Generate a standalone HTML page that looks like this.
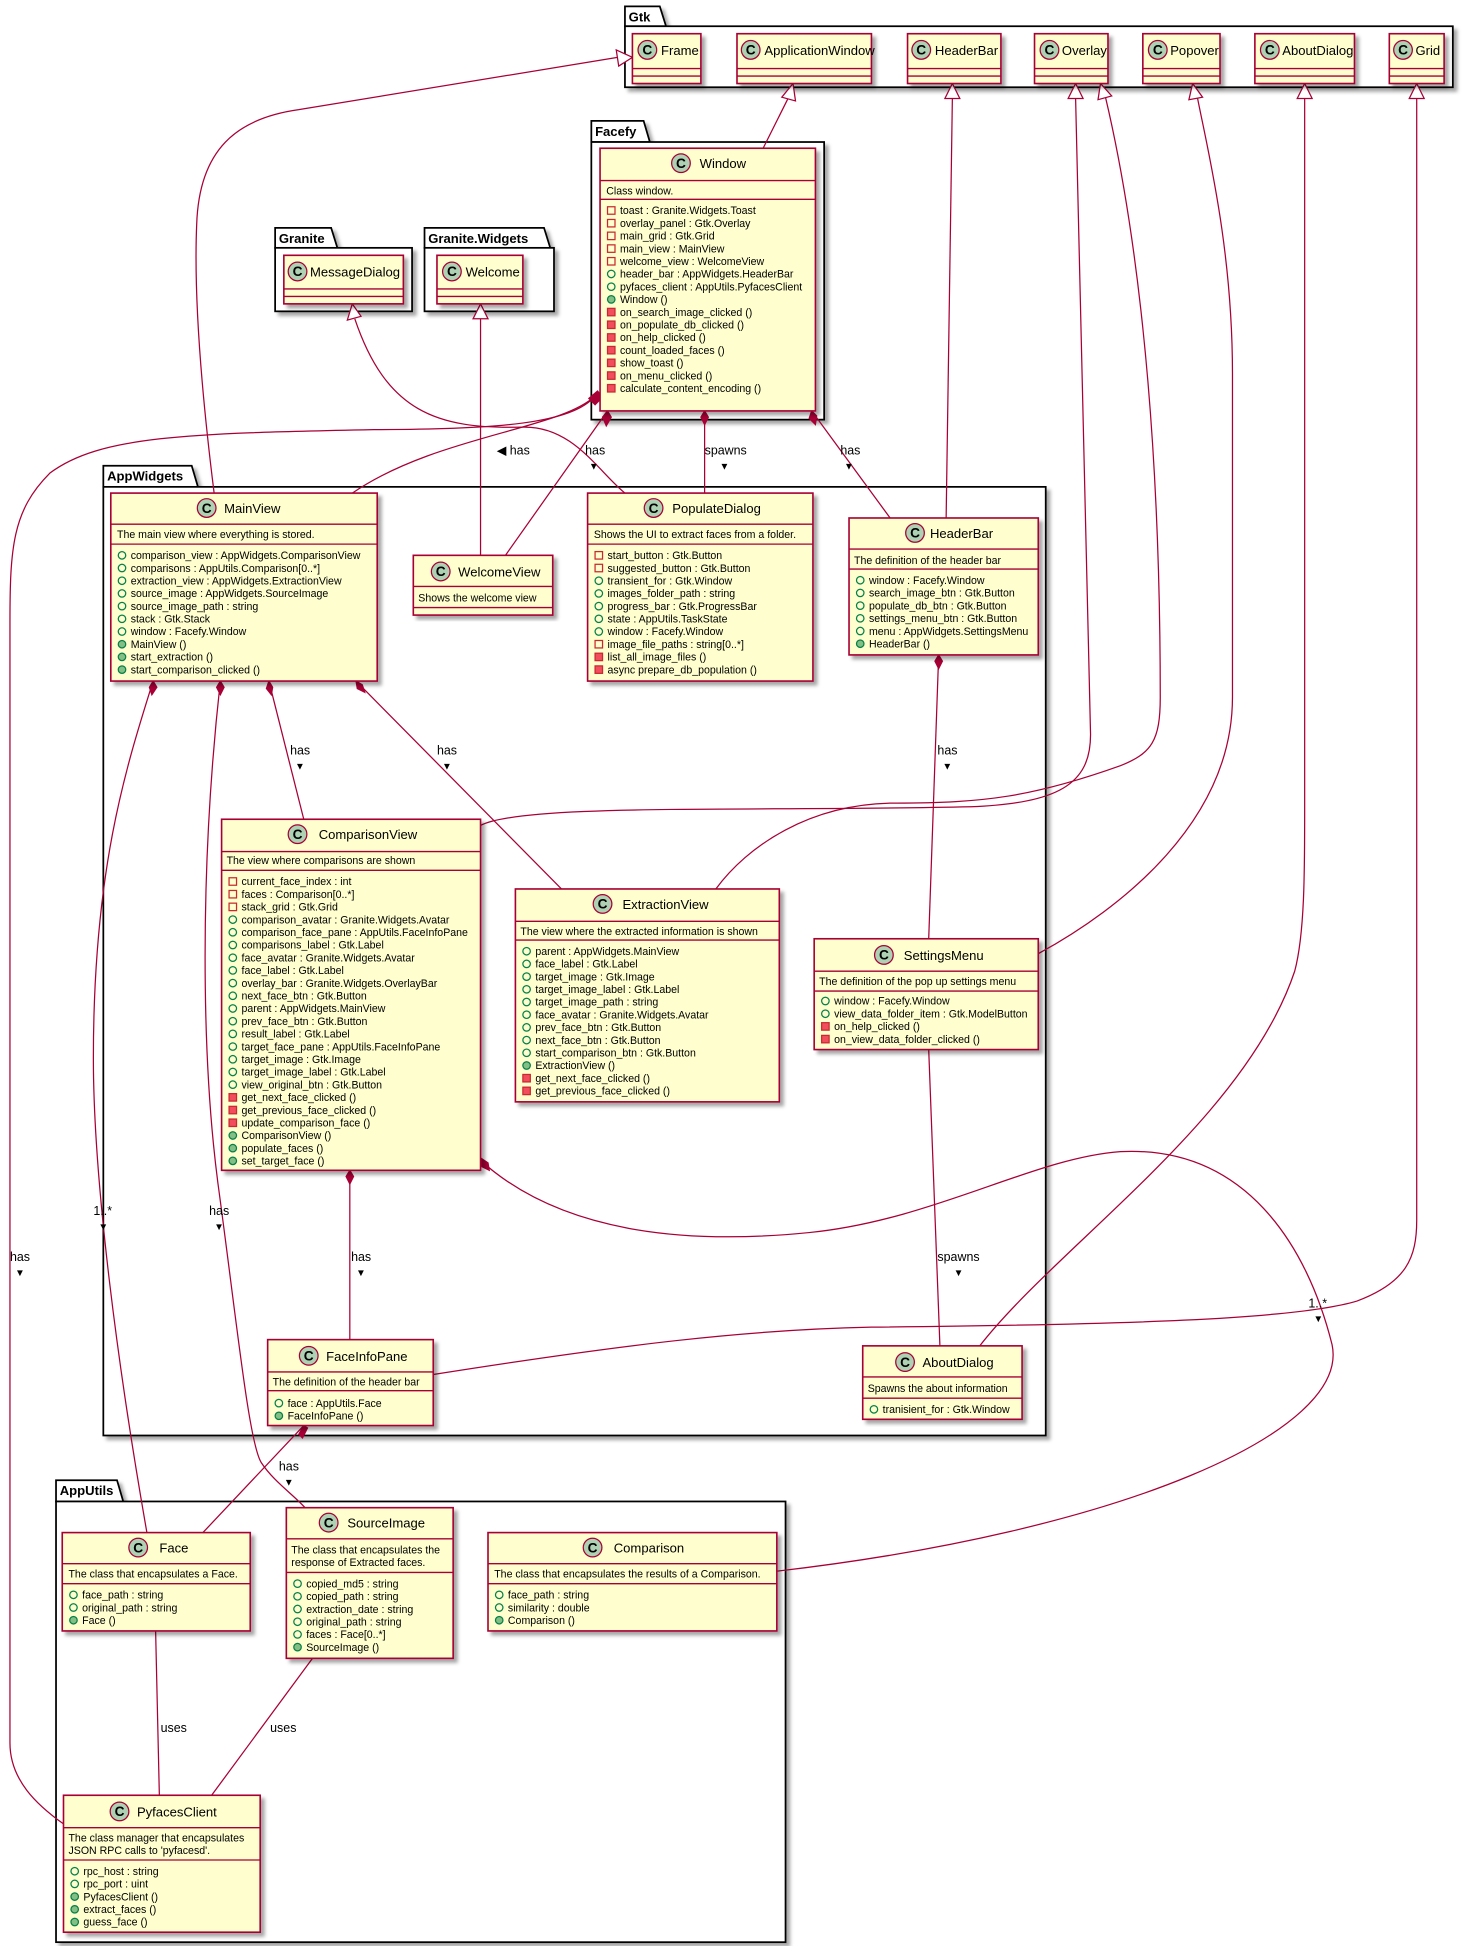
<!DOCTYPE html>
<html><head><meta charset="utf-8"><style>
html,body{margin:0;padding:0;background:#fff;}
svg{display:block;}
text{font-family:"Liberation Sans",sans-serif;fill:#000;}
.a{font-size:8.5px;}
.t{font-size:10.5px;}
.p{font-size:10.5px;font-weight:bold;}
.l{font-size:10px;}
.b{fill:#FEFECE;stroke:#A80036;stroke-width:1.3;}
.s{stroke:#A80036;stroke-width:1.1;fill:none;}
.e{stroke:#A80036;stroke-width:1;fill:none;}
.pk{fill:#fff;stroke:#000;stroke-width:1.4;}
.tri{fill:#fff;stroke:#A80036;stroke-width:1;}
.dm{fill:#A80036;stroke:#A80036;}
</style></head><body>
<svg width="1469" height="1946" viewBox="0 0 1180 1563" xmlns="http://www.w3.org/2000/svg">
<defs>
<filter id="sh" x="-5%" y="-5%" width="115%" height="115%"><feDropShadow dx="3" dy="3" stdDeviation="1.5" flood-color="#000" flood-opacity="0.35"/></filter>
<g id="ci"><circle r="7.5" fill="#ADD1B2" stroke="#A80036" stroke-width="1"/><text x="0" y="3.8" text-anchor="middle" style="font-size:11px;font-weight:bold">C</text></g>
<rect id="pa" x="-3" y="-3" width="6" height="6" fill="none" stroke="#C82930" stroke-width="1"/>
<circle id="pu" r="3" fill="none" stroke="#038048" stroke-width="1"/>
<circle id="pm" r="3" fill="#84BE84" stroke="#038048" stroke-width="1"/>
<rect id="vm" x="-3" y="-3" width="6" height="6" fill="#F24D5C" stroke="#C82930" stroke-width="1"/>
</defs>

<!-- Packages -->
<g filter="url(#sh)">
<path class="pk" d="M502,21 L502,5 L530,5 L535,21 Z"/><rect class="pk" x="502" y="21" width="665" height="49"/>
<path class="pk" d="M475,114 L475,97 L517,97 L522,114 Z"/><rect class="pk" x="475" y="114" width="187" height="223"/>
<path class="pk" d="M221,199 L221,183 L266,183 L271,199 Z"/><rect class="pk" x="221" y="199" width="110" height="51"/>
<path class="pk" d="M341,199 L341,183 L437,183 L442,199 Z"/><rect class="pk" x="341" y="199" width="104" height="51"/>
<path class="pk" d="M83,391 L83,374 L154,374 L159,391 Z"/><rect class="pk" x="83" y="391" width="757" height="762"/>
<path class="pk" d="M45,1206 L45,1189 L94,1189 L99,1206 Z"/><rect class="pk" x="45" y="1206" width="586" height="354"/>
</g>
<text class="p" x="505" y="17">Gtk</text>
<text class="p" x="478" y="109">Facefy</text>
<text class="p" x="224" y="195">Granite</text>
<text class="p" x="344" y="195">Granite.Widgets</text>
<text class="p" x="86" y="386">AppWidgets</text>
<text class="p" x="48" y="1201">AppUtils</text>

<!-- Edges -->
<path class="e" d="M172,396 C165,340 155,250 158,180 C160,120 190,95 240,88 L496,46"/>
<path class="e" d="M613,119 L633,79"/>
<path class="e" d="M760,416 L765,79"/>
<path class="e" d="M386,663 C420,645 600,652 780,648 C850,645 876,630 876,590 L864,79"/>
<path class="e" d="M575,714 C600,680 650,645 720,645 C790,645 830,640 900,615 C925,605 932,595 932,560 C932,300 905,150 888,78"/>
<path class="e" d="M834,766 C900,730 990,660 990,560 L990,300 C990,200 970,120 962,79"/>
<path class="e" d="M787,1081 C850,1000 1000,900 1040,780 C1048,750 1048,700 1048,650 L1048,79"/>
<path class="e" d="M348,1104 C500,1080 600,1068 700,1066 C900,1064 1040,1060 1090,1045 C1130,1030 1138,1010 1138,980 L1138,79"/>
<path class="e" d="M285,256 C310,330 350,345 420,343 C460,342 480,378 502,396"/>
<path class="e" d="M386,256 L386,446"/>
<path class="e" d="M478,318 C450,345 350,350 283,396"/>
<path class="e" d="M478,318 C460,340 400,345 300,345 C150,348 80,350 40,380 C10,410 8,440 8,500 L8,1400 C8,1430 30,1450 51,1465"/>
<path class="e" d="M488,330 L406,446"/>
<path class="e" d="M566,330 L566,396"/>
<path class="e" d="M652,330 L715,416"/>
<path class="e" d="M754,526 L746,754"/>
<path class="e" d="M123,547 C100,620 75,700 75,850 C75,950 95,1100 118,1231"/>
<path class="e" d="M177,547 C160,700 162,850 175,950 C190,1060 200,1160 210,1175 C220,1190 235,1200 245,1211"/>
<path class="e" d="M216,547 L244,658"/>
<path class="e" d="M286,547 L451,714"/>
<path class="e" d="M281,940 L281,1076"/>
<path class="e" d="M386,932 C450,990 550,1000 650,990 C750,980 830,930 900,925 C1000,920 1050,1000 1070,1080 C1085,1150 900,1230 624,1262"/>
<path class="e" d="M746,843 L755,1081"/>
<path class="e" d="M244,1145 L163,1231"/>
<path class="e" d="M125,1310 L128,1442"/>
<path class="e" d="M251,1332 L170,1442"/>

<!-- Inheritance triangles -->
<polygon class="tri" points="508,46 495,40 497,53"/>
<polygon class="tri" points="637,67 628,78 639,81"/>
<polygon class="tri" points="765,67 759,79 771,79"/>
<polygon class="tri" points="864,67 858,79 870,79"/>
<polygon class="tri" points="884,67 882,80 893,77"/>
<polygon class="tri" points="958,67 955,80 966,78"/>
<polygon class="tri" points="1048,67 1042,79 1054,79"/>
<polygon class="tri" points="1138,67 1132,79 1144,79"/>
<polygon class="tri" points="283,244 279,257 290,254"/>
<polygon class="tri" points="386,244 380,256 392,256"/>

<!-- Diamonds -->
<polygon class="dm" points="480,314 484,319 478,325 473,320"/>
<polygon class="dm" points="488,330 491,335 487,342 484,335"/>
<polygon class="dm" points="566,330 569,335 566,341 563,335"/>
<polygon class="dm" points="652,330 656,334 655,341 650,336"/>
<polygon class="dm" points="754,526 757,531 754,537 751,531"/>
<polygon class="dm" points="123,547 126,552 122,558 120,552"/>
<polygon class="dm" points="177,547 180,552 177,558 174,552"/>
<polygon class="dm" points="216,547 219,552 218,558 214,553"/>
<polygon class="dm" points="286,547 291,550 293,556 287,553"/>
<polygon class="dm" points="281,940 284,945 281,951 278,945"/>
<polygon class="dm" points="386,930 392,934 393,940 387,937"/>
<polygon class="dm" points="244,1145 247,1147 243,1155 240,1152"/>

<!-- Edge labels -->
<text class="l" x="399" y="365">◀ has</text>
<text class="l" x="470" y="365">has</text><text class="l" x="473" y="377" style="font-size:8px">▼</text>
<text class="l" x="566" y="365">spawns</text><text class="l" x="578" y="377" style="font-size:8px">▼</text>
<text class="l" x="675" y="365">has</text><text class="l" x="678" y="377" style="font-size:8px">▼</text>
<text class="l" x="753" y="606">has</text><text class="l" x="757" y="618" style="font-size:8px">▼</text>
<text class="l" x="233" y="606">has</text><text class="l" x="237" y="618" style="font-size:8px">▼</text>
<text class="l" x="351" y="606">has</text><text class="l" x="355" y="618" style="font-size:8px">▼</text>
<text class="l" x="75" y="976">1..*</text><text class="l" x="79" y="988" style="font-size:8px">▼</text>
<text class="l" x="168" y="976">has</text><text class="l" x="172" y="988" style="font-size:8px">▼</text>
<text class="l" x="8" y="1013">has</text><text class="l" x="12" y="1025" style="font-size:8px">▼</text>
<text class="l" x="282" y="1013">has</text><text class="l" x="286" y="1025" style="font-size:8px">▼</text>
<text class="l" x="753" y="1013">spawns</text><text class="l" x="766" y="1025" style="font-size:8px">▼</text>
<text class="l" x="1051" y="1050">1..*</text><text class="l" x="1055" y="1062" style="font-size:8px">▼</text>
<text class="l" x="224" y="1181">has</text><text class="l" x="228" y="1193" style="font-size:8px">▼</text>
<text class="l" x="129" y="1391">uses</text>
<text class="l" x="217" y="1391">uses</text>

<!-- Gtk classes -->
<g filter="url(#sh)">
<rect class="b" x="508" y="27" width="55" height="40"/>
<rect class="b" x="592" y="27" width="108" height="40"/>
<rect class="b" x="729" y="27" width="75" height="40"/>
<rect class="b" x="831" y="27" width="59" height="40"/>
<rect class="b" x="918" y="27" width="62" height="40"/>
<rect class="b" x="1008" y="27" width="80" height="40"/>
<rect class="b" x="1116" y="27" width="44" height="40"/>
<rect class="b" x="228" y="205" width="96" height="39"/>
<rect class="b" x="351" y="205" width="69" height="39"/>
</g>
<g class="s">
<path d="M508,55H563M508,61H563 M592,55H700M592,61H700 M729,55H804M729,61H804 M831,55H890M831,61H890 M918,55H980M918,61H980 M1008,55H1088M1008,61H1088 M1116,55H1160M1116,61H1160 M228,232H324M228,238H324 M351,232H420M351,238H420"/>
</g>
<use href="#ci" x="520" y="40"/><text class="t" x="531" y="44">Frame</text>
<use href="#ci" x="603" y="40"/><text class="t" x="614" y="44">ApplicationWindow</text>
<use href="#ci" x="740" y="40"/><text class="t" x="751" y="44">HeaderBar</text>
<use href="#ci" x="843" y="40"/><text class="t" x="853" y="44">Overlay</text>
<use href="#ci" x="930" y="40"/><text class="t" x="940" y="44">Popover</text>
<use href="#ci" x="1020" y="40"/><text class="t" x="1030" y="44">AboutDialog</text>
<use href="#ci" x="1127" y="40"/><text class="t" x="1137" y="44">Grid</text>
<use href="#ci" x="239" y="218"/><text class="t" x="249" y="222">MessageDialog</text>
<use href="#ci" x="363" y="218"/><text class="t" x="374" y="222">Welcome</text>

<!-- Window -->
<rect class="b" x="482" y="119" width="173" height="211" filter="url(#sh)"/>
<path class="s" d="M482,145H655M482,160H655"/>
<use href="#ci" x="547" y="131"/><text class="t" x="562" y="135">Window</text>
<text class="a" x="487" y="156">Class window.</text>
<g class="a">
<use href="#pa" x="491" y="169"/><text x="498" y="172">toast : Granite.Widgets.Toast</text>
<use href="#pa" x="491" y="179.2"/><text x="498" y="182.2">overlay_panel : Gtk.Overlay</text>
<use href="#pa" x="491" y="189.4"/><text x="498" y="192.4">main_grid : Gtk.Grid</text>
<use href="#pa" x="491" y="199.6"/><text x="498" y="202.6">main_view : MainView</text>
<use href="#pa" x="491" y="209.8"/><text x="498" y="212.8">welcome_view : WelcomeView</text>
<use href="#pu" x="491" y="220"/><text x="498" y="223">header_bar : AppWidgets.HeaderBar</text>
<use href="#pu" x="491" y="230.2"/><text x="498" y="233.2">pyfaces_client : AppUtils.PyfacesClient</text>
<use href="#pm" x="491" y="240.4"/><text x="498" y="243.4">Window ()</text>
<use href="#vm" x="491" y="250.6"/><text x="498" y="253.6">on_search_image_clicked ()</text>
<use href="#vm" x="491" y="260.8"/><text x="498" y="263.8">on_populate_db_clicked ()</text>
<use href="#vm" x="491" y="271"/><text x="498" y="274">on_help_clicked ()</text>
<use href="#vm" x="491" y="281.2"/><text x="498" y="284.2">count_loaded_faces ()</text>
<use href="#vm" x="491" y="291.4"/><text x="498" y="294.4">show_toast ()</text>
<use href="#vm" x="491" y="301.6"/><text x="498" y="304.6">on_menu_clicked ()</text>
<use href="#vm" x="491" y="311.8"/><text x="498" y="314.8">calculate_content_encoding ()</text>
</g>

<!-- MainView -->
<rect class="b" x="89" y="396" width="214" height="151" filter="url(#sh)"/>
<path class="s" d="M89,421H303M89,437H303"/>
<use href="#ci" x="166" y="408"/><text class="t" x="180" y="412">MainView</text>
<text class="a" x="94" y="432">The main view where everything is stored.</text>
<g class="a">
<use href="#pu" x="98" y="446"/><text x="105" y="449">comparison_view : AppWidgets.ComparisonView</text>
<use href="#pu" x="98" y="456.2"/><text x="105" y="459.2">comparisons : AppUtils.Comparison[0..*]</text>
<use href="#pu" x="98" y="466.4"/><text x="105" y="469.4">extraction_view : AppWidgets.ExtractionView</text>
<use href="#pu" x="98" y="476.6"/><text x="105" y="479.6">source_image : AppWidgets.SourceImage</text>
<use href="#pu" x="98" y="486.8"/><text x="105" y="489.8">source_image_path : string</text>
<use href="#pu" x="98" y="497"/><text x="105" y="500">stack : Gtk.Stack</text>
<use href="#pu" x="98" y="507.2"/><text x="105" y="510.2">window : Facefy.Window</text>
<use href="#pm" x="98" y="517.4"/><text x="105" y="520.4">MainView ()</text>
<use href="#pm" x="98" y="527.6"/><text x="105" y="530.6">start_extraction ()</text>
<use href="#pm" x="98" y="537.8"/><text x="105" y="540.8">start_comparison_clicked ()</text>
</g>

<!-- WelcomeView -->
<rect class="b" x="332" y="446" width="112" height="48" filter="url(#sh)"/>
<path class="s" d="M332,471H444M332,488H444"/>
<use href="#ci" x="354" y="459"/><text class="t" x="368" y="463">WelcomeView</text>
<text class="a" x="336" y="483">Shows the welcome view</text>

<!-- PopulateDialog -->
<rect class="b" x="472" y="396" width="181" height="151" filter="url(#sh)"/>
<path class="s" d="M472,421H653M472,437H653"/>
<use href="#ci" x="525" y="408"/><text class="t" x="540" y="412">PopulateDialog</text>
<text class="a" x="477" y="432">Shows the UI to extract faces from a folder.</text>
<g class="a">
<use href="#pa" x="481" y="446"/><text x="488" y="449">start_button : Gtk.Button</text>
<use href="#pa" x="481" y="456.2"/><text x="488" y="459.2">suggested_button : Gtk.Button</text>
<use href="#pu" x="481" y="466.4"/><text x="488" y="469.4">transient_for : Gtk.Window</text>
<use href="#pu" x="481" y="476.6"/><text x="488" y="479.6">images_folder_path : string</text>
<use href="#pu" x="481" y="486.8"/><text x="488" y="489.8">progress_bar : Gtk.ProgressBar</text>
<use href="#pu" x="481" y="497"/><text x="488" y="500">state : AppUtils.TaskState</text>
<use href="#pu" x="481" y="507.2"/><text x="488" y="510.2">window : Facefy.Window</text>
<use href="#pa" x="481" y="517.4"/><text x="488" y="520.4">image_file_paths : string[0..*]</text>
<use href="#vm" x="481" y="527.6"/><text x="488" y="530.6">list_all_image_files ()</text>
<use href="#vm" x="481" y="537.8"/><text x="488" y="540.8">async prepare_db_population ()</text>
</g>

<!-- HeaderBar -->
<rect class="b" x="682" y="416" width="152" height="110" filter="url(#sh)"/>
<path class="s" d="M682,441H834M682,457H834"/>
<use href="#ci" x="735" y="428"/><text class="t" x="747" y="432">HeaderBar</text>
<text class="a" x="686" y="453">The definition of the header bar</text>
<g class="a">
<use href="#pu" x="691" y="466"/><text x="698" y="469">window : Facefy.Window</text>
<use href="#pu" x="691" y="476.2"/><text x="698" y="479.2">search_image_btn : Gtk.Button</text>
<use href="#pu" x="691" y="486.4"/><text x="698" y="489.4">populate_db_btn : Gtk.Button</text>
<use href="#pu" x="691" y="496.6"/><text x="698" y="499.6">settings_menu_btn : Gtk.Button</text>
<use href="#pu" x="691" y="506.8"/><text x="698" y="509.8">menu : AppWidgets.SettingsMenu</text>
<use href="#pm" x="691" y="517"/><text x="698" y="520">HeaderBar ()</text>
</g>

<!-- ComparisonView -->
<rect class="b" x="178" y="658" width="208" height="282" filter="url(#sh)"/>
<path class="s" d="M178,684H386M178,699H386"/>
<use href="#ci" x="239" y="670"/><text class="t" x="256" y="674">ComparisonView</text>
<text class="a" x="182" y="694">The view where comparisons are shown</text>
<g class="a">
<use href="#pa" x="187" y="708"/><text x="194" y="711">current_face_index : int</text>
<use href="#pa" x="187" y="718.2"/><text x="194" y="721.2">faces : Comparison[0..*]</text>
<use href="#pa" x="187" y="728.4"/><text x="194" y="731.4">stack_grid : Gtk.Grid</text>
<use href="#pu" x="187" y="738.6"/><text x="194" y="741.6">comparison_avatar : Granite.Widgets.Avatar</text>
<use href="#pu" x="187" y="748.8"/><text x="194" y="751.8">comparison_face_pane : AppUtils.FaceInfoPane</text>
<use href="#pu" x="187" y="759"/><text x="194" y="762">comparisons_label : Gtk.Label</text>
<use href="#pu" x="187" y="769.2"/><text x="194" y="772.2">face_avatar : Granite.Widgets.Avatar</text>
<use href="#pu" x="187" y="779.4"/><text x="194" y="782.4">face_label : Gtk.Label</text>
<use href="#pu" x="187" y="789.6"/><text x="194" y="792.6">overlay_bar : Granite.Widgets.OverlayBar</text>
<use href="#pu" x="187" y="799.8"/><text x="194" y="802.8">next_face_btn : Gtk.Button</text>
<use href="#pu" x="187" y="810"/><text x="194" y="813">parent : AppWidgets.MainView</text>
<use href="#pu" x="187" y="820.2"/><text x="194" y="823.2">prev_face_btn : Gtk.Button</text>
<use href="#pu" x="187" y="830.4"/><text x="194" y="833.4">result_label : Gtk.Label</text>
<use href="#pu" x="187" y="840.6"/><text x="194" y="843.6">target_face_pane : AppUtils.FaceInfoPane</text>
<use href="#pu" x="187" y="850.8"/><text x="194" y="853.8">target_image : Gtk.Image</text>
<use href="#pu" x="187" y="861"/><text x="194" y="864">target_image_label : Gtk.Label</text>
<use href="#pu" x="187" y="871.2"/><text x="194" y="874.2">view_original_btn : Gtk.Button</text>
<use href="#vm" x="187" y="881.4"/><text x="194" y="884.4">get_next_face_clicked ()</text>
<use href="#vm" x="187" y="891.6"/><text x="194" y="894.6">get_previous_face_clicked ()</text>
<use href="#vm" x="187" y="901.8"/><text x="194" y="904.8">update_comparison_face ()</text>
<use href="#pm" x="187" y="912"/><text x="194" y="915">ComparisonView ()</text>
<use href="#pm" x="187" y="922.2"/><text x="194" y="925.2">populate_faces ()</text>
<use href="#pm" x="187" y="932.4"/><text x="194" y="935.4">set_target_face ()</text>
</g>

<!-- ExtractionView -->
<rect class="b" x="414" y="714" width="212" height="171" filter="url(#sh)"/>
<path class="s" d="M414,740H626M414,755H626"/>
<use href="#ci" x="484" y="726"/><text class="t" x="500" y="730">ExtractionView</text>
<text class="a" x="418" y="751">The view where the extracted information is shown</text>
<g class="a">
<use href="#pu" x="423" y="764"/><text x="430" y="767">parent : AppWidgets.MainView</text>
<use href="#pu" x="423" y="774.2"/><text x="430" y="777.2">face_label : Gtk.Label</text>
<use href="#pu" x="423" y="784.4"/><text x="430" y="787.4">target_image : Gtk.Image</text>
<use href="#pu" x="423" y="794.6"/><text x="430" y="797.6">target_image_label : Gtk.Label</text>
<use href="#pu" x="423" y="804.8"/><text x="430" y="807.8">target_image_path : string</text>
<use href="#pu" x="423" y="815"/><text x="430" y="818">face_avatar : Granite.Widgets.Avatar</text>
<use href="#pu" x="423" y="825.2"/><text x="430" y="828.2">prev_face_btn : Gtk.Button</text>
<use href="#pu" x="423" y="835.4"/><text x="430" y="838.4">next_face_btn : Gtk.Button</text>
<use href="#pu" x="423" y="845.6"/><text x="430" y="848.6">start_comparison_btn : Gtk.Button</text>
<use href="#pm" x="423" y="855.8"/><text x="430" y="858.8">ExtractionView ()</text>
<use href="#vm" x="423" y="866"/><text x="430" y="869">get_next_face_clicked ()</text>
<use href="#vm" x="423" y="876.2"/><text x="430" y="879.2">get_previous_face_clicked ()</text>
</g>

<!-- SettingsMenu -->
<rect class="b" x="654" y="754" width="180" height="89" filter="url(#sh)"/>
<path class="s" d="M654,780H834M654,796H834"/>
<use href="#ci" x="710" y="767"/><text class="t" x="726" y="771">SettingsMenu</text>
<text class="a" x="658" y="791">The definition of the pop up settings menu</text>
<g class="a">
<use href="#pu" x="663" y="804"/><text x="670" y="807">window : Facefy.Window</text>
<use href="#pu" x="663" y="814.2"/><text x="670" y="817.2">view_data_folder_item : Gtk.ModelButton</text>
<use href="#vm" x="663" y="824.4"/><text x="670" y="827.4">on_help_clicked ()</text>
<use href="#vm" x="663" y="834.6"/><text x="670" y="837.6">on_view_data_folder_clicked ()</text>
</g>

<!-- FaceInfoPane -->
<rect class="b" x="215" y="1076" width="133" height="69" filter="url(#sh)"/>
<path class="s" d="M215,1102H348M215,1117H348"/>
<use href="#ci" x="248" y="1089"/><text class="t" x="262" y="1093">FaceInfoPane</text>
<text class="a" x="219" y="1113">The definition of the header bar</text>
<g class="a">
<use href="#pu" x="224" y="1127"/><text x="231" y="1130">face : AppUtils.Face</text>
<use href="#pm" x="224" y="1137.2"/><text x="231" y="1140.2">FaceInfoPane ()</text>
</g>

<!-- AboutDialog -->
<rect class="b" x="693" y="1081" width="128" height="59" filter="url(#sh)"/>
<path class="s" d="M693,1106H821M693,1123H821"/>
<use href="#ci" x="727" y="1094"/><text class="t" x="741" y="1098">AboutDialog</text>
<text class="a" x="697" y="1118">Spawns the about information</text>
<g class="a"><use href="#pu" x="702" y="1132"/><text x="709" y="1135">tranisient_for : Gtk.Window</text></g>

<!-- Face -->
<rect class="b" x="50" y="1231" width="151" height="79" filter="url(#sh)"/>
<path class="s" d="M50,1256H201M50,1272H201"/>
<use href="#ci" x="111" y="1243"/><text class="t" x="128" y="1247">Face</text>
<text class="a" x="55" y="1267">The class that encapsulates a Face.</text>
<g class="a">
<use href="#pu" x="59" y="1281"/><text x="66" y="1284">face_path : string</text>
<use href="#pu" x="59" y="1291.2"/><text x="66" y="1294.2">original_path : string</text>
<use href="#pm" x="59" y="1301.4"/><text x="66" y="1304.4">Face ()</text>
</g>

<!-- SourceImage -->
<rect class="b" x="230" y="1211" width="134" height="121" filter="url(#sh)"/>
<path class="s" d="M230,1236H364M230,1263H364"/>
<use href="#ci" x="264" y="1223"/><text class="t" x="279" y="1227">SourceImage</text>
<text class="a" x="234" y="1248">The class that encapsulates the</text>
<text class="a" x="234" y="1258">response of Extracted faces.</text>
<g class="a">
<use href="#pu" x="239" y="1272"/><text x="246" y="1275">copied_md5 : string</text>
<use href="#pu" x="239" y="1282.2"/><text x="246" y="1285.2">copied_path : string</text>
<use href="#pu" x="239" y="1292.4"/><text x="246" y="1295.4">extraction_date : string</text>
<use href="#pu" x="239" y="1302.6"/><text x="246" y="1305.6">original_path : string</text>
<use href="#pu" x="239" y="1312.8"/><text x="246" y="1315.8">faces : Face[0..*]</text>
<use href="#pm" x="239" y="1323"/><text x="246" y="1326">SourceImage ()</text>
</g>

<!-- Comparison -->
<rect class="b" x="392" y="1231" width="232" height="79" filter="url(#sh)"/>
<path class="s" d="M392,1256H624M392,1272H624"/>
<use href="#ci" x="476" y="1243"/><text class="t" x="493" y="1247">Comparison</text>
<text class="a" x="397" y="1267">The class that encapsulates the results of a Comparison.</text>
<g class="a">
<use href="#pu" x="401" y="1281"/><text x="408" y="1284">face_path : string</text>
<use href="#pu" x="401" y="1291.2"/><text x="408" y="1294.2">similarity : double</text>
<use href="#pm" x="401" y="1301.4"/><text x="408" y="1304.4">Comparison ()</text>
</g>

<!-- PyfacesClient -->
<rect class="b" x="51" y="1442" width="158" height="110" filter="url(#sh)"/>
<path class="s" d="M51,1468H209M51,1494H209"/>
<use href="#ci" x="96" y="1455"/><text class="t" x="110" y="1459">PyfacesClient</text>
<text class="a" x="55" y="1479">The class manager that encapsulates</text>
<text class="a" x="55" y="1489">JSON RPC calls to 'pyfacesd'.</text>
<g class="a">
<use href="#pu" x="60" y="1503"/><text x="67" y="1506">rpc_host : string</text>
<use href="#pu" x="60" y="1513.2"/><text x="67" y="1516.2">rpc_port : uint</text>
<use href="#pm" x="60" y="1523.4"/><text x="67" y="1526.4">PyfacesClient ()</text>
<use href="#pm" x="60" y="1533.6"/><text x="67" y="1536.6">extract_faces ()</text>
<use href="#pm" x="60" y="1543.8"/><text x="67" y="1546.8">guess_face ()</text>
</g>
</svg>
</body></html>
